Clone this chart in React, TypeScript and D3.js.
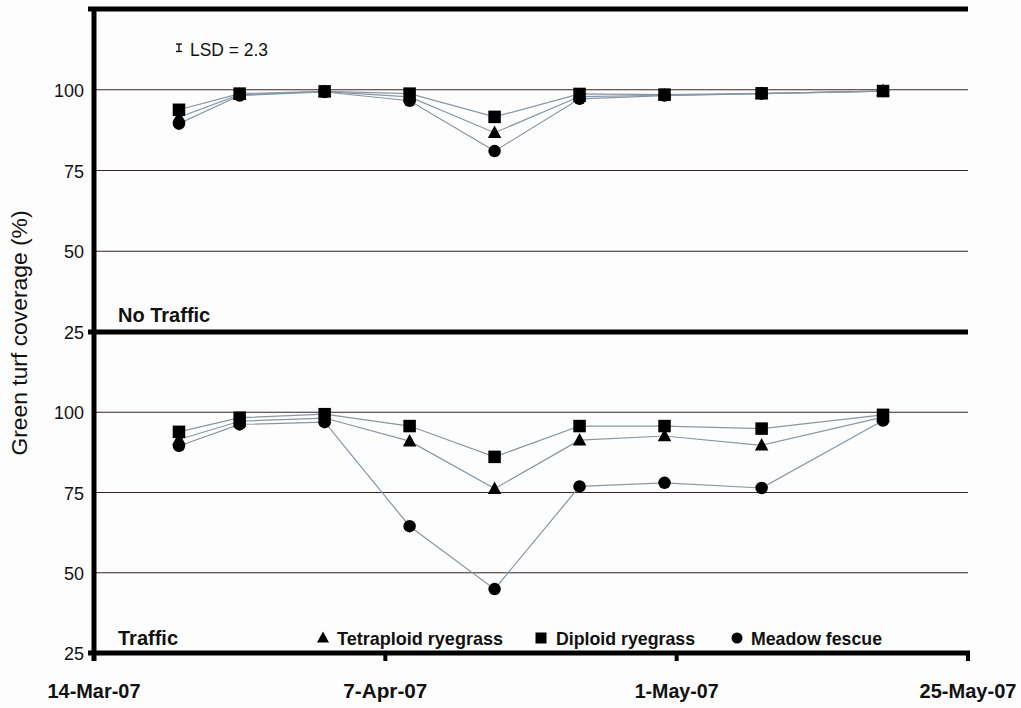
import * as d3 from 'd3';

const dates = ['2007-03-21', '2007-03-26', '2007-04-02', '2007-04-09', '2007-04-16', '2007-04-23', '2007-04-30', '2007-05-08', '2007-05-18'];
const xTicks = ['2007-03-14', '2007-04-07', '2007-05-01', '2007-05-25'];
const xTickLabels = ['14-Mar-07', '7-Apr-07', '1-May-07', '25-May-07'];
const yTicks = [25, 50, 75, 100];

const seriesNames = ['Tetraploid ryegrass', 'Diploid ryegrass', 'Meadow fescue'];

// No Traffic panel
const noTrafficTetra = [91.5, 98.5, 99.4, 97.8, 86.7, 97.9, 98.3, 98.8, 99.6];
const noTrafficDiploid = [93.8, 98.8, 99.5, 98.8, 91.6, 98.7, 98.5, 98.9, 99.6];
const noTrafficFescue = [89.5, 98.2, 99.3, 96.6, 81.0, 97.2, 98.2, 98.8, 99.6];

// Traffic panel
const trafficTetra = [91.5, 97.2, 98.2, 91.0, 76.2, 91.3, 92.6, 89.7, 98.5];
const trafficDiploid = [93.9, 98.3, 99.4, 95.7, 86.1, 95.7, 95.7, 94.9, 99.2];
const trafficFescue = [89.5, 96.2, 96.9, 64.5, 44.9, 76.9, 78.0, 76.4, 97.4];

const lsd = 2.3;

const FONT = '"Liberation Sans", Arial, sans-serif';
const parse = d3.utcParse('%Y-%m-%d');

type Shape = 'triangle' | 'square' | 'circle';

function Marker({ shape, x, y, size = 12.5 }: { shape: Shape; x: number; y: number; size?: number }) {
  const h = size / 2;
  if (shape === 'square') return <rect x={x - h} y={y - h} width={size} height={size} fill="#000" />;
  if (shape === 'circle') return <circle cx={x} cy={y} r={h} fill="#000" />;
  return <path d={`M${x},${y - h - 1}L${x + h + 0.5},${y + h - 1}L${x - h - 0.5},${y + h - 1}Z`} fill="#000" />;
}

export default function App() {
  const width = 1021;
  const height = 708;
  const left = 94;
  const right = 968;

  const x = d3.scaleUtc().domain([parse(xTicks[0])!, parse(xTicks[3])!]).range([left, right]);
  const yTop = d3.scaleLinear().domain([25, 125]).range([332, 9]);
  const yBot = d3.scaleLinear().domain([25, 125]).range([653, 332]);

  const panels = [
    { y: yTop, data: [noTrafficFescue, noTrafficTetra, noTrafficDiploid] },
    { y: yBot, data: [trafficFescue, trafficTetra, trafficDiploid] },
  ];
  const shapes: Shape[] = ['circle', 'triangle', 'square'];
  const xs = dates.map((d) => x(parse(d)!));

  const legend = [
    { shape: 'triangle' as Shape, mx: 323, tx: 337, len: 166, name: seriesNames[0] },
    { shape: 'square' as Shape, mx: 541, tx: 556, len: 139, name: seriesNames[1] },
    { shape: 'circle' as Shape, mx: 737, tx: 751, len: 131, name: seriesNames[2] },
  ];

  return (
    <svg width={width} height={height} style={{ position: 'absolute', left: 0, top: 0, background: '#fdfdfd' }}>
      {/* gridlines */}
      {panels.map((p, pi) =>
        [50, 75, 100].map((t) => (
          <line key={`g${pi}-${t}`} x1={left} x2={right} y1={p.y(t)} y2={p.y(t)} stroke="#3a2420" strokeWidth={1.2} />
        ))
      )}

      {/* series lines */}
      {panels.map((p, pi) =>
        p.data.map((vals, si) => {
          const line = d3.line<number>().x((_, i) => xs[i]).y((v) => p.y(v));
          return <path key={`l${pi}-${si}`} d={line(vals) ?? ''} fill="none" stroke="#8797a6" strokeWidth={1.2} />;
        })
      )}

      {/* markers */}
      {panels.map((p, pi) =>
        p.data.map((vals, si) =>
          vals.map((v, i) => <Marker key={`m${pi}-${si}-${i}`} shape={shapes[si]} x={xs[i]} y={p.y(v)} />)
        )
      )}

      {/* frame */}
      <line x1={left - 6} x2={right} y1={9} y2={9} stroke="#000" strokeWidth={5} />
      <line x1={left - 6} x2={right} y1={yTop(25)} y2={yTop(25)} stroke="#000" strokeWidth={5} />
      <line x1={left - 6} x2={right + 2} y1={yBot(25)} y2={yBot(25)} stroke="#000" strokeWidth={5} />
      <line x1={left} x2={left} y1={7} y2={661} stroke="#000" strokeWidth={5} />
      {xTicks.map((t) => (
        <line key={t} x1={x(parse(t)!)} x2={x(parse(t)!)} y1={653} y2={661} stroke="#000" strokeWidth={4} />
      ))}

      {/* y tick labels */}
      {panels.map((p, pi) =>
        yTicks.map((t) => (
          <text key={`yt${pi}-${t}`} x={84} y={p.y(t) + 7} textAnchor="end" fontFamily={FONT} fontSize={19}
            textLength={t === 100 ? 30 : 20} lengthAdjust="spacingAndGlyphs" fill="#111">
            {t}
          </text>
        ))
      )}

      {/* x tick labels */}
      {xTicks.map((t, i) => (
        <text key={`xt${t}`} x={x(parse(t)!)} y={698} textAnchor="middle" fontFamily={FONT} fontSize={21}
          fontWeight="bold" textLength={i === 3 ? 97 : i === 0 ? 93 : 84} lengthAdjust="spacingAndGlyphs" fill="#111">
          {xTickLabels[i]}
        </text>
      ))}

      {/* y axis title */}
      <text transform={`translate(27,${(yTop(125) + yBot(25)) / 2 + 2}) rotate(-90)`} textAnchor="middle" fontFamily={FONT}
        fontSize={22} textLength={245} lengthAdjust="spacingAndGlyphs" fill="#111">
        Green turf coverage (%)
      </text>

      {/* LSD bar */}
      <g stroke="#000" strokeWidth={1.3}>
        <line x1={179} x2={179} y1={yTop(113 + lsd / 2)} y2={yTop(113 - lsd / 2)} />
        <line x1={176} x2={182} y1={yTop(113 + lsd / 2)} y2={yTop(113 + lsd / 2)} />
        <line x1={176} x2={182} y1={yTop(113 - lsd / 2)} y2={yTop(113 - lsd / 2)} />
      </g>
      <text x={190} y={56} fontFamily={FONT} fontSize={19} textLength={78} lengthAdjust="spacingAndGlyphs" fill="#111">
        {`LSD = ${lsd}`}
      </text>

      {/* panel labels */}
      <text x={118} y={322} fontFamily={FONT} fontSize={20} fontWeight="bold" fill="#111">No Traffic</text>
      <text x={118} y={645} fontFamily={FONT} fontSize={20} fontWeight="bold" fill="#111">Traffic</text>

      {/* legend */}
      {legend.map((l) => (
        <g key={l.name}>
          <Marker shape={l.shape} x={l.mx} y={638} size={11} />
          <text x={l.tx} y={645} fontFamily={FONT} fontSize={19} fontWeight="bold" textLength={l.len}
            lengthAdjust="spacingAndGlyphs" fill="#111">
            {l.name}
          </text>
        </g>
      ))}
    </svg>
  );
}
